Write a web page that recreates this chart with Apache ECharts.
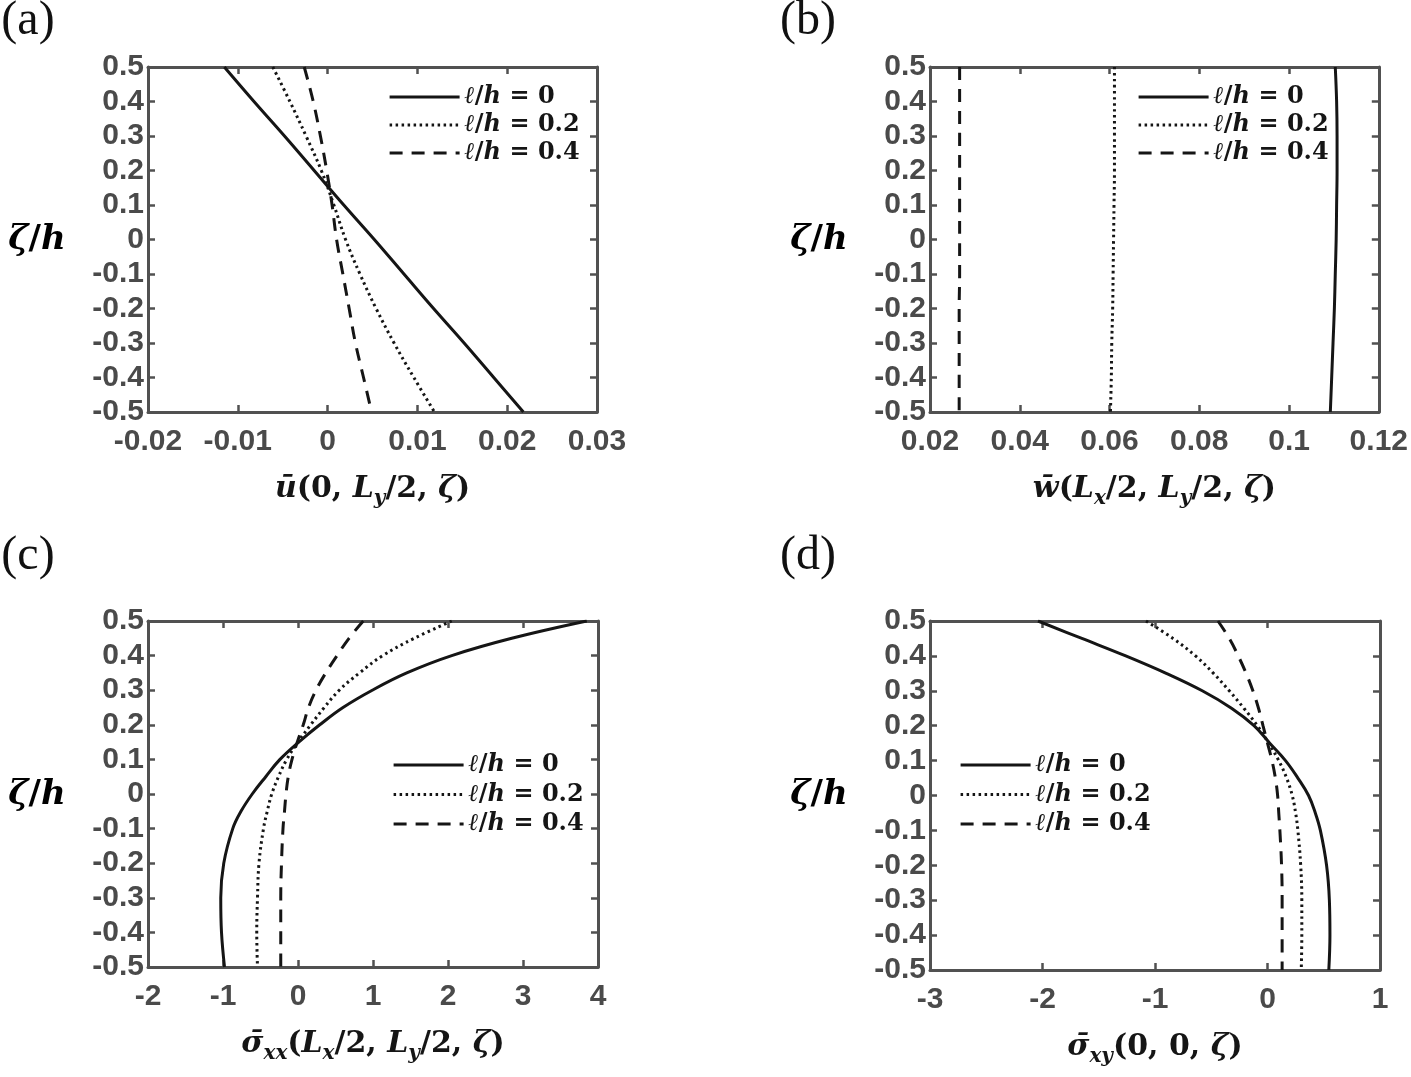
<!DOCTYPE html>
<html><head><meta charset="utf-8">
<script src="https://cdn.jsdelivr.net/npm/echarts@6/dist/echarts.min.js"></script>
<style>html,body{margin:0;padding:0;background:#fff}#c{width:1411px;height:1077px}</style>
</head><body><div id="c"></div>
<script>
// ---------- data ----------
const seriesNames = ['ℓ/h = 0', 'ℓ/h = 0.2', 'ℓ/h = 0.4'];
const legendValues = ['0', '0.2', '0.4'];

const zetaAB = [0.5, 0.4, 0.3, 0.2, 0.1, 0, -0.1, -0.2, -0.3, -0.4, -0.5];
const zetaCD = [0.5, 0.45, 0.4, 0.35, 0.3, 0.25, 0.2, 0.15, 0.1, 0.05, 0, -0.05, -0.1, -0.2, -0.3, -0.4, -0.5];

// (a) u(0, Ly/2, zeta)
const uSolid  = [-0.0115, -0.0082, -0.0048, -0.0015, 0.0018, 0.0052, 0.0085, 0.0118, 0.0152, 0.0185, 0.0218];
const uDotted = [-0.0061, -0.0042, -0.0024, -0.0007, 0.0007, 0.0020, 0.0036, 0.0054, 0.0074, 0.0096, 0.0119];
const uDashed = [-0.0026, -0.0016, -0.0008, -0.0001, 0.0005, 0.0010, 0.0017, 0.0024, 0.0031, 0.0040, 0.0049];

// (b) w(Lx/2, Ly/2, zeta)
const wSolid  = [0.1103, 0.1106, 0.1107, 0.1107, 0.1106, 0.1105, 0.1103, 0.1101, 0.1098, 0.1095, 0.1092];
const wDotted = [0.0611, 0.0611, 0.0611, 0.0611, 0.0610, 0.0609, 0.0608, 0.0607, 0.0605, 0.0604, 0.0602];
const wDashed = [0.0266, 0.0266, 0.0266, 0.0266, 0.0266, 0.0266, 0.0266, 0.0265, 0.0265, 0.0265, 0.0265];

// (c) sigma_xx(Lx/2, Ly/2, zeta)
const sxxSolid  = [3.85, 2.85, 2.05, 1.45, 0.99, 0.60, 0.29, 0.01, -0.24, -0.43, -0.61, -0.76, -0.87, -0.99, -1.03, -1.02, -0.98];
const sxxDotted = [2.05, 1.55, 1.13, 0.82, 0.55, 0.35, 0.17, 0.00, -0.15, -0.26, -0.35, -0.41, -0.46, -0.52, -0.54, -0.55, -0.54];
const sxxDashed = [0.87, 0.68, 0.52, 0.37, 0.24, 0.14, 0.07, -0.01, -0.08, -0.13, -0.16, -0.18, -0.20, -0.22, -0.23, -0.23, -0.23];

// (d) sigma_xy(0, 0, zeta)
const sxySolid  = [-2.04, -1.65, -1.26, -0.90, -0.58, -0.32, -0.12, 0.02, 0.16, 0.27, 0.365, 0.425, 0.47, 0.525, 0.55, 0.555, 0.545];
const sxyDotted = [-1.08, -0.84, -0.64, -0.48, -0.34, -0.21, -0.09, 0.01, 0.10, 0.17, 0.22, 0.25, 0.27, 0.295, 0.305, 0.305, 0.30];
const sxyDashed = [-0.44, -0.34, -0.26, -0.19, -0.13, -0.08, -0.04, 0.00, 0.04, 0.07, 0.09, 0.10, 0.11, 0.125, 0.13, 0.13, 0.13];

// tick labels
const yTickLabels  = ['-0.5', '-0.4', '-0.3', '-0.2', '-0.1', '0', '0.1', '0.2', '0.3', '0.4', '0.5'];
const xTickLabelsA = ['-0.02', '-0.01', '0', '0.01', '0.02', '0.03'];
const xTickLabelsB = ['0.02', '0.04', '0.06', '0.08', '0.1', '0.12'];
const xTickLabelsC = ['-2', '-1', '0', '1', '2', '3', '4'];
const xTickLabelsD = ['-3', '-2', '-1', '0', '1'];

// ---------- styling ----------
const AX = '#515151';
const LBL = '#4a4a4a';
const INK = '#151515';
const MATH = 'DejaVu Serif';

function mathRich(fs, color) {
  return {
    i: {fontFamily: MATH, fontStyle: 'italic', fontWeight: 'bold', fontSize: fs, color: color, lineHeight: Math.round(fs * 1.3)},
    n: {fontFamily: MATH, fontWeight: 'bold', fontSize: fs, color: color, lineHeight: Math.round(fs * 1.3)},
    s: {fontFamily: MATH, fontStyle: 'italic', fontWeight: 'bold', fontSize: Math.round(fs * 0.68), color: color,
        verticalAlign: 'bottom', lineHeight: Math.round(fs * 0.95)}
  };
}

const panels = [
  {x: xTickLabelsA, zeta: zetaAB, data: [uSolid, uDotted, uDashed], grid: {left: 148, top: 67, width: 449, height: 345},
   title: '{i|ū}{n|(0, }{i|L}{s|y}{n|/2, }{i|ζ}{n|)}', legend: {left: 388, top: 85, gap: 4},
   tag: '(a)', tagPos: [28, 21], zPos: [37, 240]},
  {x: xTickLabelsB, zeta: zetaAB, data: [wSolid, wDotted, wDashed], grid: {left: 930, top: 67, width: 450, height: 345},
   title: '{i|w̄}{n|(}{i|L}{s|x}{n|/2, }{i|L}{s|y}{n|/2, }{i|ζ}{n|)}', legend: {left: 1137, top: 85, gap: 4},
   tag: '(b)', tagPos: [808, 21], zPos: [819, 240]},
  {x: xTickLabelsC, zeta: zetaCD, data: [sxxSolid, sxxDotted, sxxDashed], grid: {left: 148, top: 621, width: 450, height: 346},
   title: '{i|σ̄}{s|xx}{n|(}{i|L}{s|x}{n|/2, }{i|L}{s|y}{n|/2, }{i|ζ}{n|)}', legend: {left: 392, top: 753, gap: 5.5},
   tag: '(c)', tagPos: [28, 556], zPos: [37, 795]},
  {x: xTickLabelsD, zeta: zetaCD, data: [sxySolid, sxyDotted, sxyDashed], grid: {left: 930, top: 621, width: 450, height: 349},
   title: '{i|σ̄}{s|xy}{n|(0, 0, }{i|ζ}{n|)}', legend: {left: 959, top: 753, gap: 5.5},
   tag: '(d)', tagPos: [808, 556], zPos: [819, 795]}
];

const lineStyles = [
  {type: 'solid', width: 3},
  {type: [2.5, 3.5], width: 3},
  {type: [13, 9], width: 3}
];

function nearestLabel(v, labels) {
  let best = labels[0], d = Infinity;
  labels.forEach(l => { const dd = Math.abs(parseFloat(l) - v); if (dd < d) { d = dd; best = l; } });
  return best;
}

const grids = [], xAxes = [], yAxes = [], series = [], legends = [], graphics = [];
const yVals = yTickLabels.map(parseFloat);
const yMin = yVals[0], yMax = yVals[yVals.length - 1], yInt = +(yVals[1] - yVals[0]).toFixed(10);

panels.forEach((p, gi) => {
  grids.push(Object.assign({containLabel: false}, p.grid));
  const xv = p.x.map(parseFloat);
  const xMin = xv[0], xMax = xv[xv.length - 1], xInt = +(xv[1] - xv[0]).toFixed(10);
  const common = {
    type: 'value', gridIndex: gi, splitLine: {show: false},
    axisLine: {show: true, onZero: false, lineStyle: {color: AX, width: 3}},
    axisTick: {show: true, inside: true, length: 7, lineStyle: {color: AX, width: 2.5}}
  };
  xAxes.push(Object.assign({}, common, {
    position: 'bottom', min: xMin, max: xMax, interval: xInt,
    axisLabel: {show: true, margin: 15, color: LBL, fontFamily: 'Liberation Sans', fontWeight: 'bold', fontSize: 30,
      formatter: v => nearestLabel(v, p.x)},
    name: p.title, nameLocation: 'middle', nameGap: 58,
    nameTextStyle: {rich: mathRich(30, INK)}
  }));
  xAxes.push(Object.assign({}, common, {position: 'top', min: xMin, max: xMax, interval: xInt, axisLabel: {show: false}}));
  yAxes.push(Object.assign({}, common, {
    position: 'left', min: yMin, max: yMax, interval: yInt,
    axisLabel: {show: true, margin: 4, color: LBL, fontFamily: 'Liberation Sans', fontWeight: 'bold', fontSize: 30,
      formatter: v => nearestLabel(v, yTickLabels)}
  }));
  yAxes.push(Object.assign({}, common, {position: 'right', min: yMin, max: yMax, interval: yInt, axisLabel: {show: false}}));

  p.data.forEach((vals, k) => {
    series.push({
      type: 'line', name: seriesNames[k], xAxisIndex: gi * 2, yAxisIndex: gi * 2,
      data: vals.map((v, j) => [v, p.zeta[j]]),
      showSymbol: false, symbol: 'none', smooth: 0.4,
      lineStyle: Object.assign({color: INK, cap: 'butt'}, lineStyles[k]),
      itemStyle: {color: INK}, animation: false, silent: true, z: 3
    });
  });

  legends.push({
    show: true, orient: 'vertical', left: p.legend.left, top: p.legend.top,
    itemWidth: 70, itemHeight: 14, itemGap: p.legend.gap, padding: 0,
    data: seriesNames, selectedMode: false,
    itemStyle: {opacity: 0},
    lineStyle: {width: 3.2},
    formatter: name => '{i|ℓ}{n|/}{i|h}{n| = ' + legendValues[seriesNames.indexOf(name)] + '}',
    textStyle: {rich: {
      i: {fontFamily: MATH, fontStyle: 'italic', fontWeight: 'bold', fontSize: 24, color: INK, lineHeight: 24},
      n: {fontFamily: MATH, fontWeight: 'bold', fontSize: 24, color: INK, lineHeight: 24}
    }}
  });

  graphics.push({
    type: 'text', x: p.tagPos[0], y: p.tagPos[1],
    style: {text: p.tag, font: '48px "Liberation Serif"', fill: '#111', align: 'center', verticalAlign: 'middle'}
  });
  graphics.push({
    type: 'text', x: p.zPos[0], y: p.zPos[1],
    style: {text: '{i|ζ}{n|/}{i|h}', rich: mathRich(34, '#2a2a2a'), align: 'center', verticalAlign: 'middle'}
  });
});

const chart = echarts.init(document.getElementById('c'), null, {renderer: 'canvas'});
chart.setOption({
  backgroundColor: '#ffffff',
  animation: false,
  grid: grids, xAxis: xAxes, yAxis: yAxes, series: series, legend: legends, graphic: graphics
});
</script></body></html>
